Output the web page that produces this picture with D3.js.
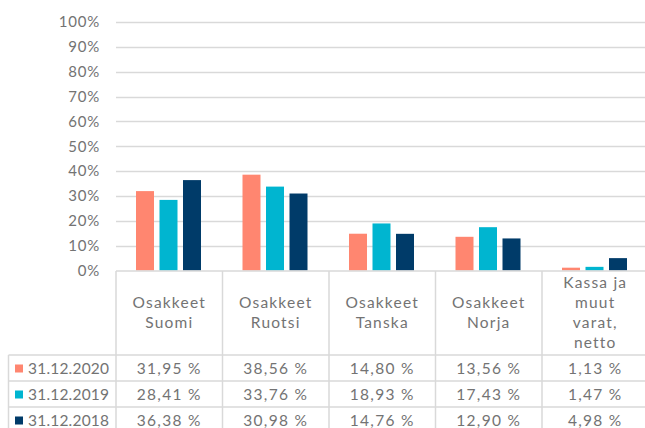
<!DOCTYPE html>
<html><head><meta charset="utf-8">
<script src="https://cdn.jsdelivr.net/npm/d3@7"></script>
<style>body{margin:0;background:#fff;overflow:hidden}svg{display:block}</style>
</head><body>
<svg id="c" width="645" height="428"></svg>
<script>
const categories = [["Osakkeet","Suomi"],["Osakkeet","Ruotsi"],["Osakkeet","Tanska"],["Osakkeet","Norja"],["Kassa ja","muut","varat,","netto"]];
const seriesNames = ["31.12.2020","31.12.2019","31.12.2018"];
const s2020 = [31.95, 38.56, 14.80, 13.56, 1.13];
const s2019 = [28.41, 33.76, 18.93, 17.43, 1.47];
const s2018 = [36.38, 30.98, 14.76, 12.90, 4.98];
const seriesColors = ["#FF8670","#00B5D0","#003B69"];
const yTicks = [0,10,20,30,40,50,60,70,80,90,100];

const series = [s2020, s2019, s2018];
const svg = d3.select("#c");
const font = "'Lato', 'Open Sans', sans-serif";
const txt = "#737373";
const grid = "#d9d9d9";

const catIdx = categories.map((d,i)=>i);
const x = d3.scaleBand().domain(catIdx).range([116, 648.5]);
const xi = d3.scaleBand().domain(d3.range(3)).range([20, 85]).paddingInner(0.234);
const y = d3.scaleLinear().domain([0,100]).range([270.5, 22]);

// gridlines
svg.append("g").selectAll("line").data(yTicks.filter(t=>t>0)).join("line")
  .attr("x1",116).attr("x2",645).attr("y1",d=>Math.round(y(d))+0.5).attr("y2",d=>Math.round(y(d))+0.5)
  .attr("stroke",grid).attr("stroke-width",1.5);

// y axis labels
const yAxis = d3.axisLeft(y).tickValues(yTicks).tickFormat(d=>d+"%").tickSize(0).tickPadding(0);
const ya = svg.append("g").attr("transform","translate(100,0)").call(yAxis);
ya.select(".domain").remove();
ya.selectAll("text").attr("font-family",font).attr("font-size",15).attr("fill",txt).attr("letter-spacing","0.8");

// bars
const gs = svg.append("g").selectAll("g").data(catIdx).join("g").attr("transform",d=>`translate(${x(d)},0)`);
gs.selectAll("rect").data(ci=>series.map((s,si)=>({si,v:s[ci]}))).join("rect")
  .attr("x",d=>xi(d.si)).attr("width",xi.bandwidth())
  .attr("y",d=>y(d.v)).attr("height",d=>y(0)-y(d.v))
  .attr("fill",d=>seriesColors[d.si]);

// table
const rowTop = 355, rowH = 26;
const tg = svg.append("g");
const lineAttrs = sel=>sel.attr("stroke",grid).attr("stroke-width",1.5);
tg.append("line").attr("x1",116).attr("x2",645).attr("y1",271).attr("y2",271).call(lineAttrs);
tg.selectAll("line.v").data(catIdx.concat([5])).join("line").attr("class","v")
  .attr("x1",(d)=>d<5?x(d):648.5).attr("x2",d=>d<5?x(d):648.5).attr("y1",271).attr("y2",440).call(lineAttrs);
tg.append("line").attr("x1",8.5).attr("x2",8.5).attr("y1",rowTop).attr("y2",440).call(lineAttrs);
tg.selectAll("line.h").data(d3.range(4)).join("line").attr("class","h")
  .attr("x1",8.5).attr("x2",645).attr("y1",d=>rowTop+d*rowH).attr("y2",d=>rowTop+d*rowH).call(lineAttrs);

// header text
categories.forEach((lines,ci)=>{
  const cx = x(ci)+x.bandwidth()/2;
  const n = lines.length;
  const midY = 313;
  const lh = 20;
  lines.forEach((l,li)=>{
    tg.append("text").attr("x",cx).attr("y",midY+(li-(n-1)/2)*lh).attr("dy","0.35em")
      .attr("text-anchor","middle").attr("font-family",font).attr("font-size",15.5).attr("fill",txt)
      .attr("letter-spacing","1.2").text(l);
  });
});

// rows
const fmt = v=>v.toFixed(2).replace(".",",")+" %";
series.forEach((s,si)=>{
  const cy = rowTop + si*rowH + rowH/2 + 1;
  tg.append("rect").attr("x",15).attr("y",cy-4.5).attr("width",8).attr("height",8).attr("fill",seriesColors[si]);
  tg.append("text").attr("x",28).attr("y",cy).attr("dy","0.35em").attr("font-family",font).attr("font-size",15.5)
    .attr("fill",txt).attr("letter-spacing","0.2").text(seriesNames[si]);
  s.forEach((v,ci)=>{
    tg.append("text").attr("x",x(ci)+x.bandwidth()/2).attr("y",cy).attr("dy","0.35em").attr("text-anchor","middle")
      .attr("font-family",font).attr("font-size",15.5).attr("fill",txt).attr("letter-spacing","1.3").text(fmt(v));
  });
});
</script>
</body></html>
